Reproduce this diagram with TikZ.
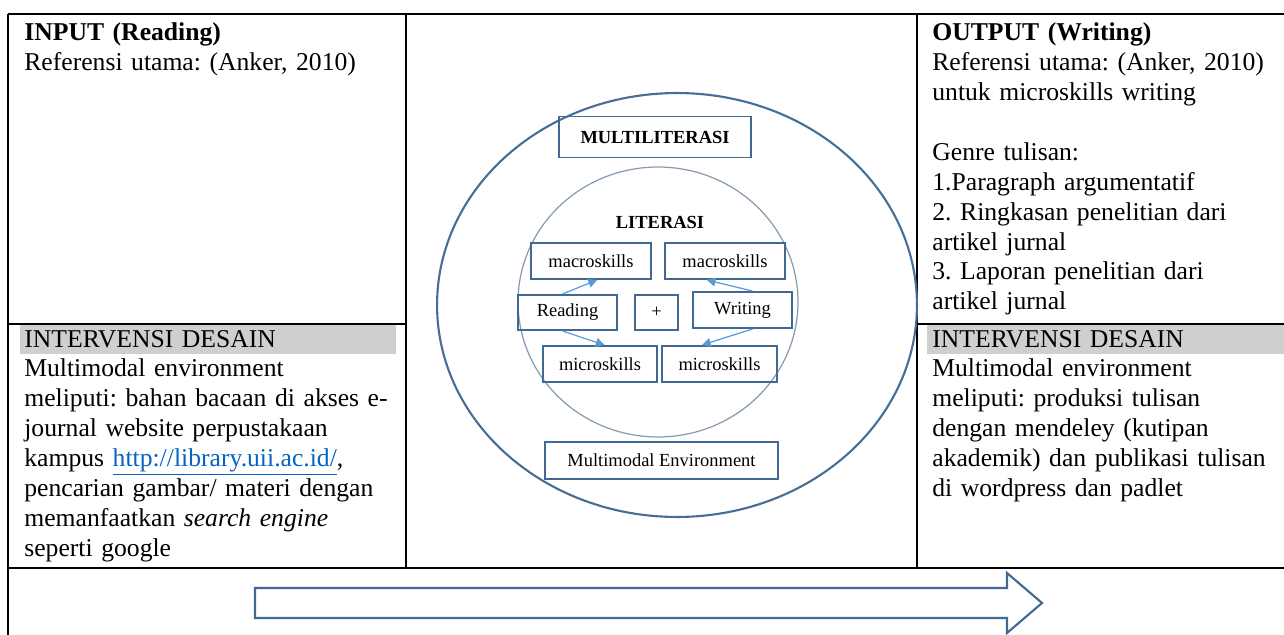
\documentclass[tikz,border=0pt]{standalone}
\usepackage{fontspec}
\setmainfont{Liberation Serif}
\usetikzlibrary{arrows.meta,calc}

\definecolor{cellgray}{RGB}{208,206,206}
\definecolor{linkblue}{RGB}{5,99,193}
\definecolor{boxblue}{RGB}{65,105,145}
\definecolor{ringblue}{RGB}{70,110,150}
\definecolor{ringgray}{RGB}{135,155,175}
\definecolor{tipblue}{RGB}{91,155,213}

\begin{document}
\frenchspacing
\begin{tikzpicture}[
      x=0.02cm, y=-0.02cm,
      rule/.style={line width=0.9pt, draw=black},
      cell/.style={anchor=base west, inner sep=0pt, text width=7.9cm, align=left,
                   font=\fontsize{14.6}{17}\selectfont},
      skill/.style={draw=boxblue, line width=1.1pt, inner sep=0pt,
                    minimum height=0.72cm, font=\fontsize{10.5}{12}\selectfont},
      heading/.style={font=\fontsize{10.5}{12}\selectfont\bfseries},
      flow/.style={draw=tipblue, line width=0.7pt, -{Triangle[length=5pt,width=5pt]}},
    ]
    \useasboundingbox (0,0) rectangle (1284,635);

    % -------------------------------------------------------
    %  Table frame
    % -------------------------------------------------------
    \fill[cellgray] (20,324) rectangle (396,354);
    \fill[cellgray] (927,324) rectangle (1284,354);
    \draw[rule] (8,14) -- (1284,14);
    \draw[rule] (8,14) -- (8,635);
    \draw[rule] (406,14) -- (406,568);
    \draw[rule] (917,14) -- (917,568);
    \draw[rule] (8,568) -- (1284,568);
    \draw[rule] (8,324) -- (406,324);
    \draw[rule] (917,324) -- (1284,324);

    % -------------------------------------------------------
    %  Left column: input
    % -------------------------------------------------------
    \node[cell] (input) at (24,41) {\textbf{INPUT (Reading)}\\
      Referensi utama: (Anker, 2010)};
    \node[cell] (intervL) at (24,347) {INTERVENSI DESAIN\\
      Multimodal environment\\
      meliputi: bahan bacaan di akses e-\\
      journal website perpustakaan\\
      kampus \textcolor{linkblue}{\underline{http://library.uii.ac.id/}},\\
      pencarian gambar/ materi dengan\\
      memanfaatkan \textit{search engine}\\
      seperti google};

    % -------------------------------------------------------
    %  Right column: output
    % -------------------------------------------------------
    \node[cell] (output) at (932,41) {\textbf{OUTPUT (Writing)}\\
      Referensi utama: (Anker, 2010)\\
      untuk microskills writing\\[17pt]
      Genre tulisan:\\
      1.Paragraph argumentatif\\
      2. Ringkasan penelitian dari\\
      artikel jurnal\\
      3. Laporan penelitian dari\\
      artikel jurnal};
    \node[cell] (intervR) at (932,347) {INTERVENSI DESAIN\\
      Multimodal environment\\
      meliputi: produksi tulisan\\
      dengan mendeley (kutipan\\
      akademik) dan publikasi tulisan\\
      di wordpress dan padlet};

    % -------------------------------------------------------
    %  Middle: multiliterasi rings
    % -------------------------------------------------------
    \draw[ringblue, line width=1.2pt] (677,305) ellipse [x radius=4.8cm, y radius=4.24cm];
    \draw[ringgray, line width=0.7pt] (658,302) ellipse [x radius=2.8cm, y radius=2.7cm];

    \node[skill, heading, minimum width=3.84cm, minimum height=0.82cm] (multi) at (655,137) {MULTILITERASI};
    \node[heading] (lit) at (660,222) {LITERASI};

    \node[skill, minimum width=2.4cm] (macL) at (591,261) {macroskills};
    \node[skill, minimum width=2.4cm] (macR) at (725,261) {macroskills};
    \node[skill, minimum width=1.98cm, minimum height=0.7cm] (read) at (567.5,312.5) {Reading};
    \node[skill, minimum width=0.86cm, minimum height=0.7cm] (plus) at (656.5,312.5) {+};
    \node[skill, minimum width=1.98cm] (write) at (742.5,310) {Writing};
    \node[skill, minimum width=2.28cm] (micL) at (600,364) {microskills};
    \node[skill, minimum width=2.3cm] (micR) at (719.5,364) {microskills};

    \node[skill, minimum width=4.66cm, minimum height=0.74cm] (env) at (661.5,460.5) {Multimodal Environment};

    % skill links
    \draw[flow] ($(read.north west)!0.45!(read.north east)$) -- ($(macL.south west)!0.55!(macL.south east)$);
    \draw[flow] ($(read.south west)!0.45!(read.south east)$) -- ($(micL.north west)!0.54!(micL.north east)$);
    \draw[flow] ($(write.north west)!0.6!(write.north east)$) -- ($(macR.south west)!0.35!(macR.south east)$);
    \draw[flow] ($(write.south west)!0.6!(write.south east)$) -- ($(micR.north west)!0.35!(micR.north east)$);

    % -------------------------------------------------------
    %  Bottom row: block arrow
    % -------------------------------------------------------
    \draw[boxblue, line width=1.2pt, fill=white] (255,588) -- (1007,588) -- (1007,573)
      -- (1042,603) -- (1007,633) -- (1007,618) -- (255,618) -- cycle;

  \end{tikzpicture}
\end{document}
